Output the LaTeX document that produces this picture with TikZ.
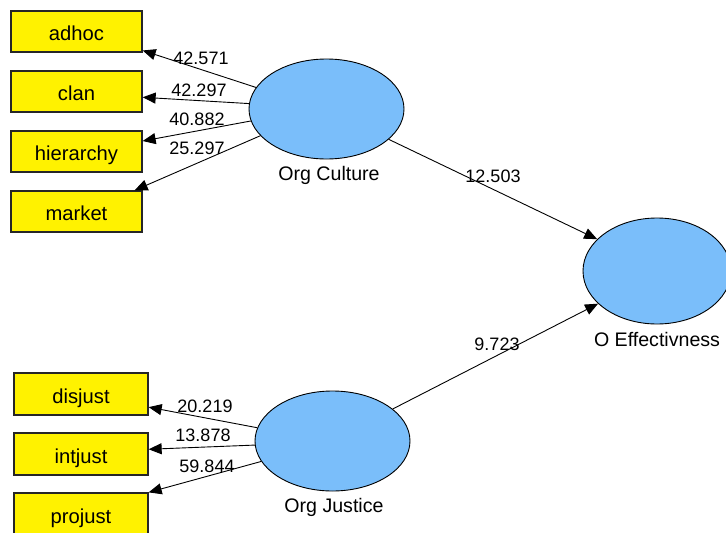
\documentclass[tikz,border=0pt]{standalone}
\usepackage{fontspec}
\setmainfont{Liberation Sans}
\usetikzlibrary{arrows.meta,shapes.geometric}
\definecolor{lvblue}{RGB}{122,190,250}

\begin{document}
\begin{tikzpicture}[x=1pt,y=-1pt,
  ind/.style={draw=black!85,line width=1.3pt,fill=yellow,minimum width=131pt,minimum height=41pt,inner sep=0pt,text height=18pt,text depth=0pt,font=\fontsize{20.2}{23}\selectfont},
  lat/.style={ellipse,draw,line width=0.9pt,fill=lvblue,minimum width=155pt,minimum height=100pt,inner sep=0pt},
  nam/.style={font=\fontsize{19.6}{22}\selectfont,inner sep=0pt},
  val/.style={font=\fontsize{18}{21}\selectfont,inner sep=0pt},
  lnk/.style={-{Triangle[length=13pt,width=11pt]},line width=0.9pt}]
\useasboundingbox (0,0) rectangle (726,533);
% indicators
\node[ind] (adhoc) at (76.5,31.5) {adhoc};
\node[ind] (clan) at (76.5,91.5) {clan};
\node[ind] (hier) at (76.5,151.5) {hierarchy};
\node[ind] (market) at (76.5,211.5) {market};
\node[ind,minimum width=134pt,minimum height=42pt] (disjust) at (81,394) {disjust};
\node[ind,minimum width=134pt,minimum height=42pt] (intjust) at (81,454) {intjust};
\node[ind,minimum width=134pt,minimum height=42pt] (projust) at (81,514) {projust};
% latent variables
\node[lat] (oc) at (326.5,109) {};
\node[lat] (oj) at (332.5,441) {};
\node[lat,minimum width=148pt,minimum height=106pt] (oe) at (657,271) {};
\node[nam] (ocl) at (329,175) {Org Culture};
\node[nam] (ojl) at (334,507) {Org Justice};
\node[nam] (oel) at (657,339) {O Effectivness};
% paths
\draw[lnk] (oc.163) -- (adhoc.-16);
\draw[lnk] (oc.176) -- (clan.-5);
\draw[lnk] (oc.189) -- (hier.9);
\draw[lnk] (oc.202) -- (market.20);
\draw[lnk] (oj.170) -- (disjust.-11);
\draw[lnk] (oj.183) -- (intjust.4);
\draw[lnk] (oj.196) -- (projust.north east);
\draw[lnk] (oc.-26) -- (oe.152);
\draw[lnk] (oj.28) -- (oe.209);
% t values
\node[val] (v1) at (201,58) {42.571};
\node[val] (v2) at (199,90) {42.297};
\node[val] (v3) at (197,119) {40.882};
\node[val] (v4) at (197,148) {25.297};
\node[val] (v5) at (493,176) {12.503};
\node[val] (v6) at (497,344) {9.723};
\node[val] (v7) at (205,406) {20.219};
\node[val] (v8) at (203,435) {13.878};
\node[val] (v9) at (207,466) {59.844};
\end{tikzpicture}
\end{document}
